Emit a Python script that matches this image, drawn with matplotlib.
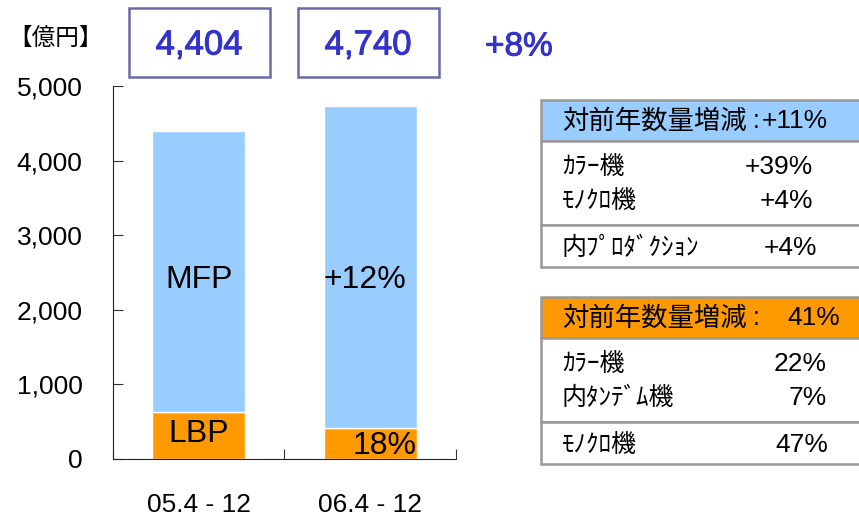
import matplotlib.pyplot as plt
from matplotlib.patches import Rectangle
import matplotlib.patheffects as pe

# data
periods = ['05.4 - 12', '06.4 - 12']
lbp = [630, 420]
mfp = [3774, 4320]
totals = ['4,404', '4,740']
growth = '+8%'

mfp_table = [('ｶﾗｰ機', '+39%'), ('ﾓﾉｸﾛ機', '+4%'), ('内ﾌﾟﾛﾀﾞｸｼｮﾝ', '+4%')]
lbp_table = [('ｶﾗｰ機', '22%'), ('内ﾀﾝﾃﾞﾑ機', '7%'), ('ﾓﾉｸﾛ機', '47%')]
mfp_head = '+11%'
lbp_head = '41%'

blue = '#99ccff'
orange = '#ff9900'
num_font = ['Liberation Sans', 'DejaVu Sans']
jp_font = ['Noto Sans CJK JP', 'DejaVu Sans']

fig = plt.figure(figsize=(8.59, 5.22), dpi=100)
ax = fig.add_axes([0.1315, 0.1207, 0.3993, 0.7136])

x = [0, 1]
ax.bar(x, lbp, width=0.54, color=orange, edgecolor='white', linewidth=1)
ax.bar(x, mfp, width=0.54, bottom=lbp, color=blue, edgecolor='white', linewidth=1)

ax.set_xlim(-0.5, 1.5)
ax.set_ylim(0, 5000)
ax.set_yticks(range(0, 5001, 1000))
ax.set_yticklabels([f'{v:,}' for v in range(0, 5001, 1000)], family=num_font, fontsize=19)
ax.set_xticks([-0.5, 0.5, 1.5])
ax.set_xticklabels([])
ax.tick_params(axis='both', direction='in', length=7, color='#333333')
ax.tick_params(axis='y', pad=22)
for s in ['top', 'right']:
    ax.spines[s].set_visible(False)
for s in ['left', 'bottom']:
    ax.spines[s].set_color('#222222')

for i, p in enumerate(periods):
    ax.text(x[i], -0.09, p, transform=ax.get_xaxis_transform(), ha='center',
            va='top', fontsize=19, family=num_font)

ax.text(0, 2400, 'MFP', ha='center', va='center', fontsize=23, family=num_font)
ax.text(0.97, 2400, '+12%', ha='center', va='center', fontsize=23, family=num_font)
ax.text(0, lbp[0] / 2 + 20, 'LBP', ha='center', va='center', fontsize=23, family=num_font)
ax.text(1.27, lbp[1] / 2 - 30, '18%', ha='right', va='center', fontsize=23, family=num_font)

# overlay in pixel coordinates
ov = fig.add_axes([0, 0, 1, 1])
ov.set_xlim(0, 859)
ov.set_ylim(522, 0)
ov.axis('off')

ov.text(8, 38, '【億円】', ha='left', va='center', fontsize=17, family=jp_font)

thick = [pe.withStroke(linewidth=0.7, foreground='#3333cc')]
for i, t in enumerate(totals):
    x0 = 129 + i * 169
    ov.add_patch(Rectangle((x0, 8), 141, 69, fill=False, edgecolor='#6a6aa6', linewidth=1.8))
    ov.text(x0 + 70, 45, t, ha='center', va='center', fontsize=25, color='#3333cc',
            family=num_font, path_effects=thick)
ov.text(519, 47, growth, ha='center', va='center', fontsize=24, color='#3333cc',
        family=num_font, path_effects=thick)


def draw_table(y0, head_color, head_val, rows, val_x, head_x):
    gray = '#999999'
    ov.add_patch(Rectangle((541, y0), 330, 41, facecolor=head_color, edgecolor=gray, linewidth=1.8))
    ov.add_patch(Rectangle((541, y0 + 41), 330, 84, facecolor='white', edgecolor=gray, linewidth=1.8))
    ov.add_patch(Rectangle((541, y0 + 125), 330, 42, facecolor='white', edgecolor=gray, linewidth=1.8))
    ov.text(562, y0 + 21, '対前年数量増減', ha='left', va='center', fontsize=19, family=jp_font)
    ov.text(756, y0 + 21, ':', ha='center', va='center', fontsize=18, family=num_font)
    ov.text(head_x, y0 + 21, head_val, ha='right', va='center', fontsize=19, family=num_font)
    ys = [y0 + 67, y0 + 101, y0 + 148]
    for (name, val), yy, vx in zip(rows, ys, val_x):
        ov.text(562, yy, name, ha='left', va='center', fontsize=18, family=jp_font)
        ov.text(vx, yy, val, ha='right', va='center', fontsize=19, family=num_font)


draw_table(100, blue, mfp_head, mfp_table, [813, 813, 817], 828)
draw_table(297, orange, lbp_head, lbp_table, [827, 827, 828], 840)

fig.savefig('out.png', dpi=100)
